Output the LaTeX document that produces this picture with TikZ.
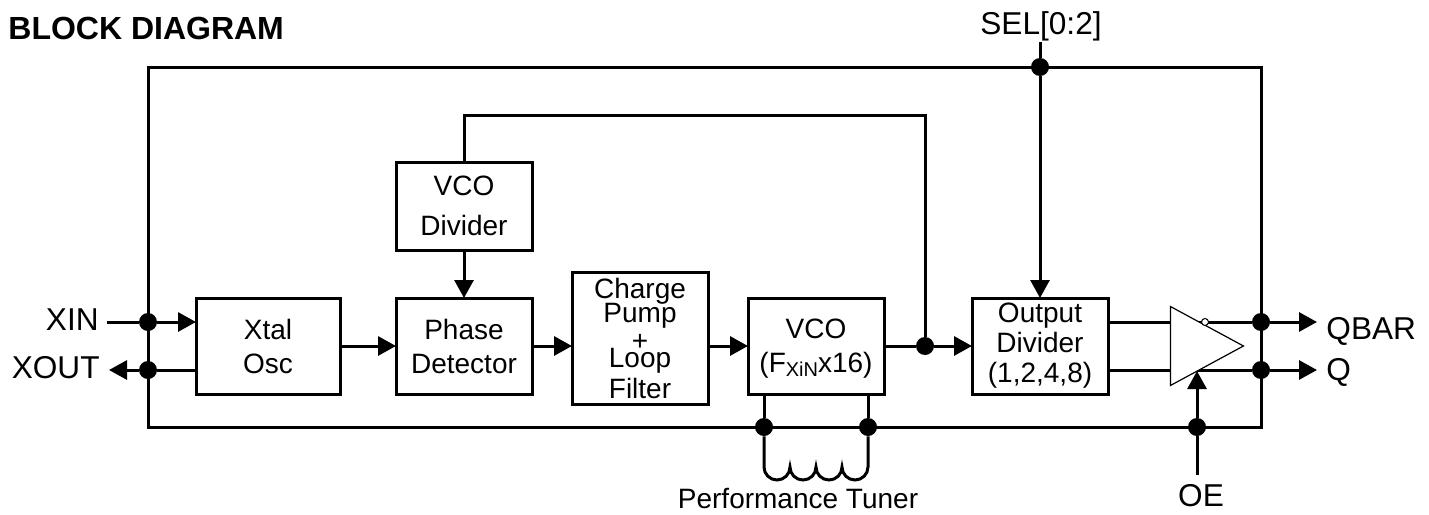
\documentclass[tikz,border=0pt]{standalone}
\usepackage{fontspec}
\setmainfont{Liberation Sans}
\usetikzlibrary{arrows.meta,shapes.geometric}
\tikzset{
	blockbox/.style={draw,line width=1.5pt,minimum width=68pt,minimum height=48pt,inner sep=0pt,outer sep=0pt,align=center},
	junction/.style={circle,fill=black,inner sep=0pt,minimum size=9pt},
	pinlabel/.style={inner sep=0pt,font=\fontsize{15.8}{16}\selectfont},
	wire/.style={line width=1.5pt},
	signal/.style={line width=1.5pt,-{Triangle[length=9pt,width=9.5pt]}}
}
\begin{document}
\begin{tikzpicture}[x=0.5pt,y=-0.5pt,font=\fontsize{14}{14}\selectfont]
	\useasboundingbox (0,0) rectangle (1429,514);
	% title and frame
	\node[inner sep=0pt,anchor=west,font=\fontsize{16}{16}\selectfont\bfseries] (title) at (8,28) {BLOCK DIAGRAM};
	\draw[wire] (148,67) rectangle (1261,427);
	% blocks
	\node[blockbox,minimum width=72pt] (xtal) at (268,346) {Xtal\\[3pt]Osc};
	\node[blockbox] (phase) at (464,346) {Phase\\[3pt]Detector};
	\node[blockbox,minimum height=44pt] (divider) at (464,206) {VCO\\[6pt]Divider};
	\node[blockbox,minimum height=66pt] (pump) at (640,338) {Charge\\[-2pt]Pump\\[0pt]+\\[-5.5pt]Loop\\[1.5pt]Filter};
	\node[blockbox,text depth=0pt] (vco) at (816,346) {VCO\\[3pt](F\raisebox{-2pt}{\fontsize{10}{10}\selectfont XiN}x16)};
	\node[blockbox] (outdiv) at (1040,346) {Output\\[1pt]Divider\\[1pt](1,2,4,8)};
	% junctions
	\node[junction] (xindot) at (148,322) {};
	\node[junction] (xoutdot) at (148,370) {};
	\node[junction] (seldot) at (1040,67) {};
	\node[junction] (fbdot) at (925,346) {};
	\node[junction] (qbardot) at (1261,322) {};
	\node[junction] (qdot) at (1261,370) {};
	\node[junction] (tunea) at (764,427) {};
	\node[junction] (tuneb) at (868,427) {};
	\node[junction] (oedot) at (1197,427) {};
	% pin labels
	\node[pinlabel,anchor=east] (xin) at (99,320) {XIN};
	\node[pinlabel,anchor=east] (xout) at (100,368) {XOUT};
	\node[pinlabel] (sel) at (1041,26) {SEL[0:2]};
	\node[pinlabel,anchor=west] (qbar) at (1326,331) {QBAR};
	\node[pinlabel,anchor=west] (q) at (1326,372) {Q};
	\node[pinlabel] (oe) at (1201,496) {OE};
	\node[inner sep=0pt] (tuner) at (798,498) {Performance Tuner};
	% free ends
	\coordinate (xinend) at (107,322);
	\coordinate (xoutend) at (109,370);
	\coordinate (selend) at (1040,42);
	\coordinate (fbtop) at (925,115);
	\coordinate (divtop) at (464,115);
	\coordinate (qbarend) at (1317,322);
	\coordinate (qend) at (1317,370);
	\coordinate (oebot) at (1197,475);
	\coordinate (oetip) at (1197,371);
	% connectors
	\draw[wire] (xinend)--(xindot);
	\draw[signal] (xindot)--(xindot-|xtal.west);
	\draw[wire] (xoutdot-|xtal.west)--(xoutdot);
	\draw[signal] (xoutdot)--(xoutend);
	\draw[signal] (xtal)--(phase);
	\draw[signal] (phase)--(pump.west|-phase);
	\draw[signal] (pump.east|-vco)--(vco);
	\draw[signal] (divider)--(phase);
	\draw[wire] (vco)--(fbdot);
	\draw[signal] (fbdot)--(outdiv);
	\draw[wire] (fbdot)--(fbtop)--(divtop)--(divider);
	\draw[wire] (selend)--(seldot);
	\draw[signal] (seldot)--(outdiv);
	\draw[wire] (outdiv.east|-qbardot)--(qbardot);
	\draw[wire] (outdiv.east|-qdot)--(qdot);
	\draw[signal] (qbardot)--(qbarend);
	\draw[signal] (qdot)--(qend);
	\draw[wire] (tunea|-vco.south)--(tunea);
	\draw[wire] (tuneb|-vco.south)--(tuneb);
	\draw[wire] (tunea)--++(0,40) arc[start angle=180,end angle=360,radius=6.5pt] arc[start angle=180,end angle=360,radius=6.5pt] arc[start angle=180,end angle=360,radius=6.5pt] arc[start angle=180,end angle=360,radius=6.5pt]--(tuneb);
	\draw[wire] (oebot)--(oedot);
	% output buffer
	\node[draw,fill=white,line width=0.6pt,isosceles triangle,isosceles triangle stretches,inner sep=0pt,minimum width=39.5pt,minimum height=36.5pt,anchor=apex] (buffer) at (1245,346) {};
	\node[draw,fill=white,circle,line width=0.5pt,inner sep=0pt,minimum size=3.5pt] (bubble) at (1205,322) {};
	\draw[signal] (oedot)--(oetip);
\end{tikzpicture}
\end{document}
